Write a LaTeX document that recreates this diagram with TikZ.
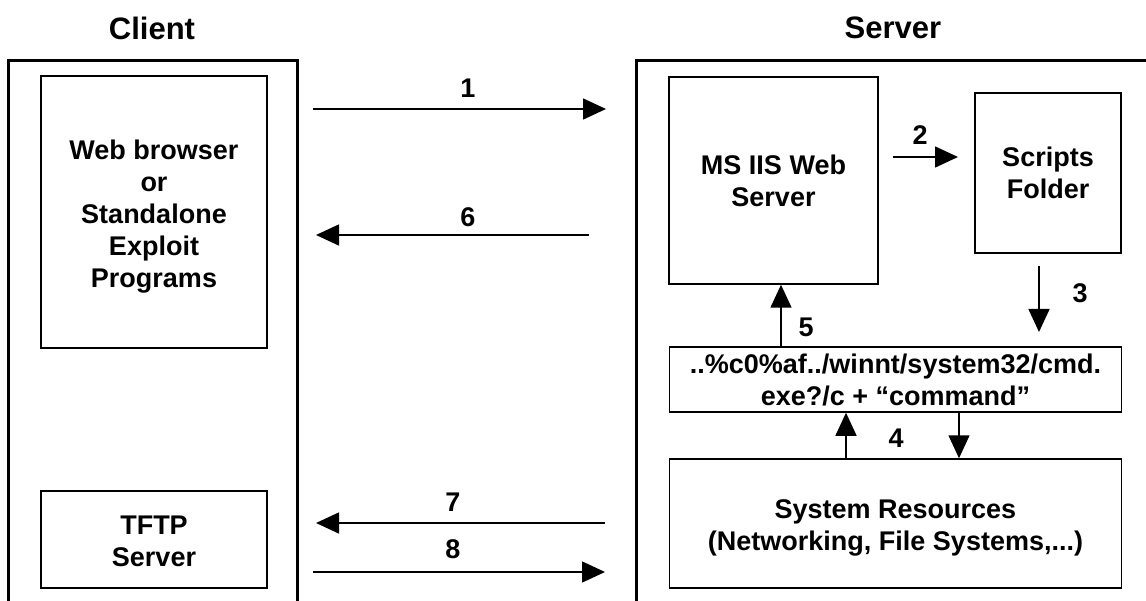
\documentclass[tikz,border=0pt]{standalone}
\usepackage{fontspec}
\setmainfont{Liberation Sans}
\usetikzlibrary{arrows.meta}
\begin{document}
\begin{tikzpicture}[x=1pt,y=-1pt,
  box/.style={draw, line width=1.5pt, rectangle, inner sep=0pt, align=center,
    font=\fontsize{27}{32}\selectfont\bfseries},
  lbl/.style={font=\fontsize{27}{32}\selectfont\bfseries, inner sep=0pt},
  ttl/.style={font=\fontsize{31}{36}\selectfont\bfseries, inner sep=0pt},
  arr/.style={line width=1.5pt, -{Triangle[length=23pt,width=21pt]}},
  outer/.style={line width=3pt}]
\useasboundingbox (0,0) rectangle (1146,601);
\clip (0,0) rectangle (1146,601);
\fill[white] (0,0) rectangle (1146,601);
% titles
\node[ttl] (tclient) at (152,28) {Client};
\node[ttl] (tserver) at (893,28) {Server};
% outer boxes
\draw[outer] (8,610) -- (8,61) -- (297,61) -- (297,610);
\draw[outer] (636,610) -- (636,61) -- (1160,61);
% nodes
\node[box, minimum width=226pt, minimum height=272pt] (web) at (154,212) {};
\node[box, draw=none, anchor=center] (webtxt) at (154,217)
  {Web browser\\or\\Standalone\\Exploit\\Programs};
\node[box, minimum width=226pt, minimum height=97pt] (tftp) at (154,539.5) {};
\node[box, draw=none] (tftptxt) at (154,541) {TFTP\\Server};
\node[box, minimum width=209pt, minimum height=207pt] (iis) at (773.5,180.5)
  {MS IIS Web\\Server};
\node[box, minimum width=146pt, minimum height=160pt] (scripts) at (1048,173)
  {Scripts\\Folder};
\node[box, minimum width=452pt, minimum height=65pt] (cmd) at (895.5,379.5)
  {..\%c0\%af../winnt/system32/cmd.\\exe?/c + “command”};
\node[box, minimum width=452pt, minimum height=129pt] (sys) at (895.5,523.5) {};
\node[box, draw=none] (systxt) at (895.5,528)
  {System Resources\\(Networking, File Systems,...)};
% connector end points
\coordinate (a1s) at (313,109); \coordinate (a1e) at (606,109);
\coordinate (a6s) at (589,235); \coordinate (a6e) at (316,235);
\coordinate (a2s) at (893,157); \coordinate (a2e) at (958,157);
\coordinate (a3s) at (1039,266); \coordinate (a3e) at (1039,332);
\coordinate (a7s) at (605,523); \coordinate (a7e) at (316,523);
\coordinate (a8s) at (313,572); \coordinate (a8e) at (605,572);
\coordinate (x5) at (781,0);
\coordinate (x4u) at (846,0);
\coordinate (x4d) at (959,0);
% connectors
\draw[arr] (a1s) -- (a1e);
\draw[arr] (a6s) -- (a6e);
\draw[arr] (a2s) -- (a2e);
\draw[arr] (a3s) -- (a3e);
\draw[arr] (cmd.north -| x5) -- (iis.south -| x5);
\draw[arr] (sys.north -| x4u) -- (cmd.south -| x4u);
\draw[arr] (cmd.south -| x4d) -- (sys.north -| x4d);
\draw[arr] (a7s) -- (a7e);
\draw[arr] (a8s) -- (a8e);
% labels
\node[lbl] (l1) at (468,88) {1};
\node[lbl] (l6) at (468,217) {6};
\node[lbl] (l2) at (920,135) {2};
\node[lbl] (l3) at (1080,293) {3};
\node[lbl] (l5) at (806,327) {5};
\node[lbl] (l4) at (896,438) {4};
\node[lbl] (l7) at (453,502) {7};
\node[lbl] (l8) at (453,549) {8};
\end{tikzpicture}
\end{document}
